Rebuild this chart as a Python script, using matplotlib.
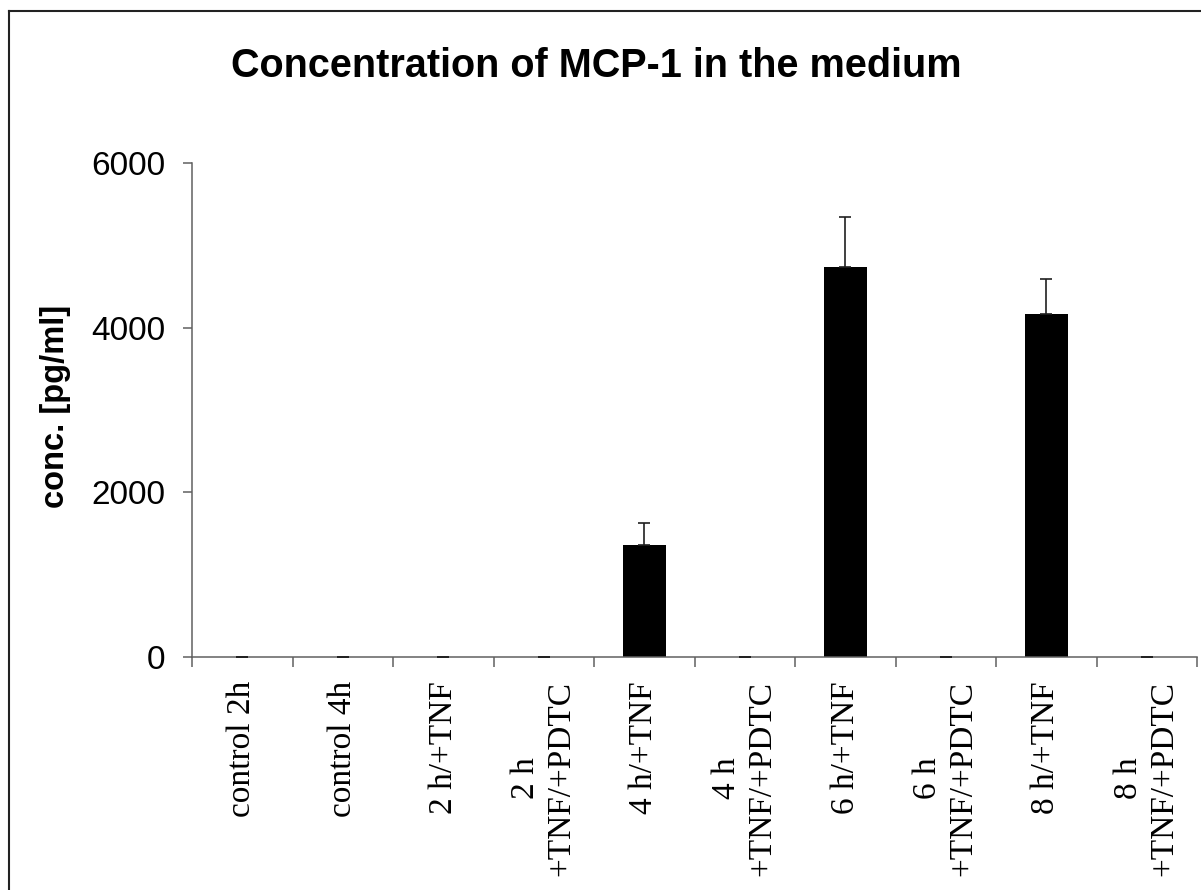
import numpy as np
import matplotlib
matplotlib.use('Agg')
import matplotlib.pyplot as plt
import matplotlib.transforms as mtransforms
from matplotlib.lines import Line2D

# data
categories = ['control 2h', 'control 4h', '2 h/+TNF', '2 h\n+TNF/+PDTC',
              '4 h/+TNF', '4 h\n+TNF/+PDTC', '6 h/+TNF', '6 h\n+TNF/+PDTC',
              '8 h/+TNF', '8 h\n+TNF/+PDTC']
conc = [0, 0, 0, 0, 1360, 0, 4740, 0, 4170, 0]
err = [0, 0, 0, 0, 270, 0, 610, 0, 420, 0]
yticks = [0, 2000, 4000, 6000]

W, H = 1201, 890
fig = plt.figure(figsize=(W / 100, H / 100), dpi=100)
ax = fig.add_axes([192 / W, 1 - 657 / H, (1197 - 192) / W, (657 - 163) / H])

x = np.arange(len(categories))
ax.bar(x, conc, width=0.43, color='black', zorder=2)
ax.errorbar(x, conc, yerr=[np.zeros(len(err)), err], fmt='none',
            ecolor='#202020', elinewidth=1.2, capsize=4.5, capthick=1.2, zorder=3)

ax.set_xlim(-0.5, len(categories) - 0.5)
ax.set_ylim(0, 6000)

axis_col = '#606060'
for s in ['top', 'right']:
    ax.spines[s].set_visible(False)
for s in ['left', 'bottom']:
    ax.spines[s].set_color(axis_col)
    ax.spines[s].set_linewidth(1.1)

ax.set_yticks(yticks)
ax.set_yticklabels([str(v) for v in yticks], fontsize=24, family='Liberation Sans')
ax.tick_params(axis='y', direction='out', length=6.5, width=1.1, color=axis_col, pad=12.5)

# tick marks at category boundaries, labels drawn as centred text below
ax.set_xticks(np.arange(-0.5, len(categories)))
ax.set_xticklabels([])
ax.tick_params(axis='x', direction='out', length=7.5, width=1.1, color=axis_col)

lab_tr = mtransforms.offset_copy(ax.get_xaxis_transform(), fig=fig, y=-24, units='dots')
for i, lab in enumerate(categories):
    ax.text(i, 0, lab, transform=lab_tr, rotation=90, fontsize=24,
            family='Liberation Serif', ha='center', va='top',
            multialignment='center', clip_on=False)

ax.set_ylabel('conc. [pg/ml]', fontsize=23.5, fontweight='bold', family='Liberation Sans')
ax.yaxis.set_label_coords((71 - 192) / (1197 - 192), (657 - 406) / (657 - 163))

fig.text(596 / W, 1 - 66 / H, 'Concentration of MCP-1 in the medium', fontsize=28.5,
         fontweight='bold', family='Liberation Sans', ha='center', va='center')

# frame around the chart area (right and bottom edges cut off)
fig.add_artist(Line2D([8.5 / W, 8.5 / W], [0, 1 - 10.5 / H], transform=fig.transFigure,
                      color='#222222', lw=1.5))
fig.add_artist(Line2D([8.5 / W, 1], [1 - 10.5 / H, 1 - 10.5 / H], transform=fig.transFigure,
                      color='#222222', lw=1.5))

fig.savefig('out.png', dpi=100)
